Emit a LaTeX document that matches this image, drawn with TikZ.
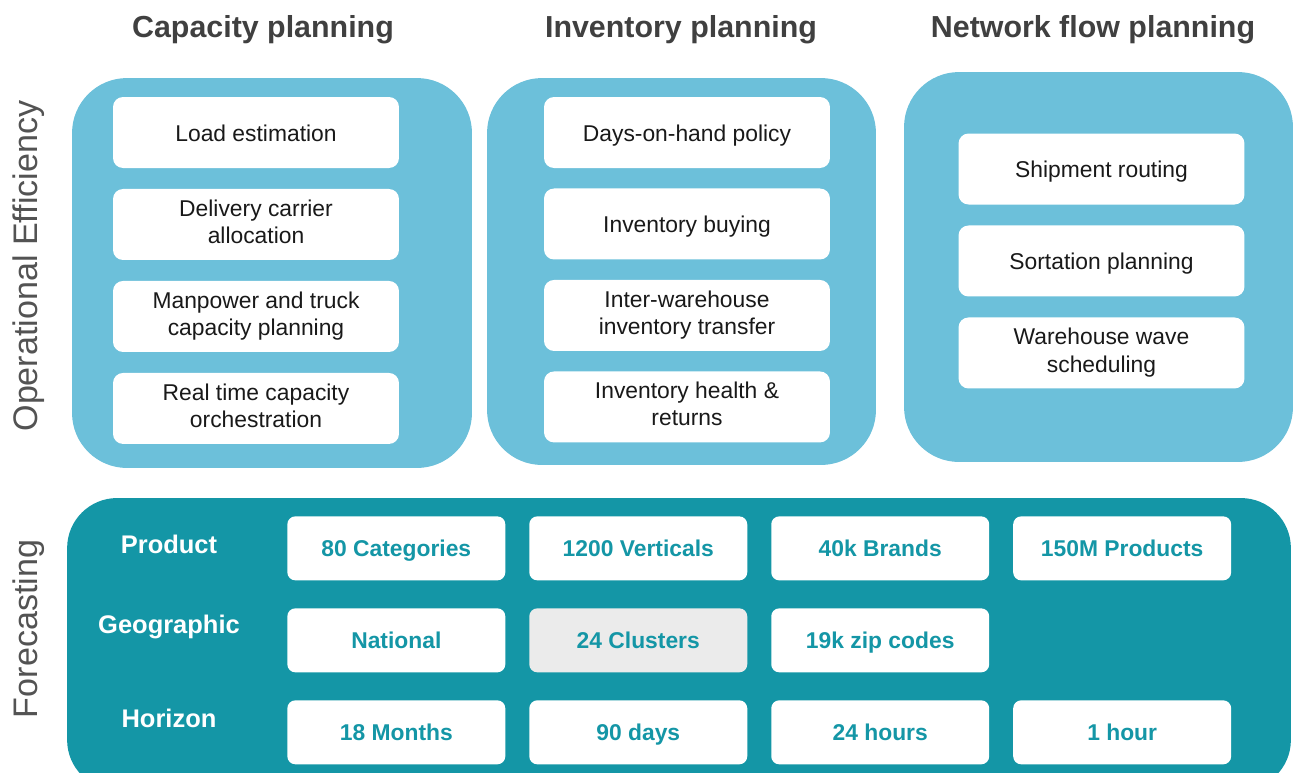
\documentclass[tikz,border=0pt]{standalone}
\usepackage{fontspec}
\setmainfont{Liberation Sans}
\usetikzlibrary{positioning}

\definecolor{panelblue}{RGB}{108,192,218}
\definecolor{fcteal}{RGB}{20,150,166}
\definecolor{titlegray}{RGB}{64,64,64}
\definecolor{clustergray}{RGB}{235,235,235}

\newcommand{\boxstrut}{\rule[-0.25em]{0pt}{1.25em}}

\begin{document}
\begin{tikzpicture}[x=0.02cm, y=-0.02cm]

\tikzset{
    panel/.style = {
    fill=panelblue,
    rounded corners=1.1cm,
    minimum width=7.78cm,
    minimum height=7.78cm
    },
    task/.style = {
    fill=white, rounded corners=0.2cm, outer sep=0pt,
    minimum width=5.72cm, minimum height=1.42cm,
    align=center, text=black!90,
    font=\fontsize{13}{15.5}\selectfont,
    execute at begin node=\boxstrut, execute at end node=\boxstrut
    },
    fcbox/.style = {
    fill=white, rounded corners=0.16cm, outer sep=0pt,
    minimum width=4.36cm, minimum height=1.28cm,
    text=fcteal, font=\fontsize{13}{15.5}\selectfont\bfseries,
    execute at begin node=\boxstrut
    }
}

\tikzstyle{heading}=[text=titlegray, font=\fontsize{17.3}{20}\selectfont\bfseries]
\tikzstyle{rowlabel}=[text=white, font=\fontsize{14.5}{17}\selectfont\bfseries]
\tikzstyle{sidelabel}=[rotate=90, text=titlegray!90, font=\fontsize{19.4}{22}\selectfont]

\useasboundingbox (0,0) rectangle (1294,772);

% headings
\node (h-cap) [heading] at (263,30) {Capacity planning};
\node (h-inv) [heading] at (681,30) {Inventory planning};
\node (h-net) [heading] at (1093,30) {Network flow planning};

\node (side-op) [sidelabel] at (29,266) {Operational Efficiency};
\node (side-fc) [sidelabel] at (29,629) {Forecasting};

% operational panels
\node (p-cap) [panel, minimum width=8cm, minimum height=7.8cm] at (272,273) {};
\node (p-inv) [panel, minimum height=7.74cm] at (681.5,271.5) {};
\node (p-net) [panel, minimum height=7.8cm] at (1098.5,267) {};

\node (cap-1) [task] at (256,132.5) {Load estimation};
\node (cap-2) [task, below=0.42cm of cap-1] {Delivery carrier\\allocation};
\node (cap-3) [task, below=0.42cm of cap-2] {Manpower and truck\\capacity planning};
\node (cap-4) [task, below=0.42cm of cap-3] {Real time capacity\\orchestration};

\node (inv-1) [task] at (687,132.5) {Days-on-hand policy};
\node (inv-2) [task, below=0.41cm of inv-1] {Inventory buying};
\node (inv-3) [task, below=0.41cm of inv-2] {Inter-warehouse\\inventory transfer};
\node (inv-4) [task, below=0.41cm of inv-3] {Inventory health \&\\returns};

\node (net-1) [task] at (1101.5,169) {Shipment routing};
\node (net-2) [task, below=0.42cm of net-1] {Sortation planning};
\node (net-3) [task, below=0.42cm of net-2] {Warehouse wave\\scheduling};

% forecasting panel
\node (p-fc) [fill=fcteal, rounded corners=1cm, minimum width=24.48cm, minimum height=5.84cm] at (679,644) {};

\node (r-prod) [rowlabel] at (169,544) {Product};
\node (r-geo) [rowlabel] at (169,627) {Geographic};
\node (r-hor) [rowlabel] at (169,718) {Horizon};

\matrix (fc) [column sep=0.48cm, row sep=0.56cm, inner sep=0pt, anchor=north west] at (287,516)
{
\node (fc-1-1) [fcbox] {80 Categories};
& \node (fc-1-2) [fcbox] {1200 Verticals};
& \node (fc-1-3) [fcbox] {40k Brands};
& \node (fc-1-4) [fcbox] {150M Products};
\\
\node (fc-2-1) [fcbox] {National};
& \node (fc-2-2) [fcbox, fill=clustergray] {24 Clusters};
& \node (fc-2-3) [fcbox] {19k zip codes};
& \\
\node (fc-3-1) [fcbox] {18 Months};
& \node (fc-3-2) [fcbox] {90 days};
& \node (fc-3-3) [fcbox] {24 hours};
& \node (fc-3-4) [fcbox] {1 hour};
\\
};

\end{tikzpicture}
\end{document}
